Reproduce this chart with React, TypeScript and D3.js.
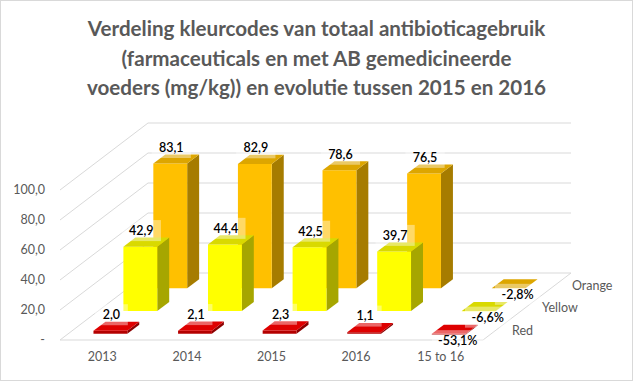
import React from 'react';
import * as d3 from 'd3';

const categories = ['2013', '2014', '2015', '2016', '15 to 16'];
const seriesNames = ['Red', 'Yellow', 'Orange'];
const redValues = [2.0, 2.1, 2.3, 1.1, -0.531];
const yellowValues = [42.9, 44.4, 42.5, 39.7, -0.066];
const orangeValues = [83.1, 82.9, 78.6, 76.5, -0.028];
const yTicks = [0, 20, 40, 60, 80, 100];
const titleLines = [
  'Verdeling kleurcodes van totaal antibioticagebruik',
  '(farmaceuticals en met AB gemedicineerde',
  'voeders (mg/kg)) en evolutie tussen 2015 en 2016',
];
const changeCategory = '15 to 16';

const W = 633;
const H = 381;
const X0 = 60;
const PLOT_W = 423;
const DX = 88;
const DY = -67;

const faceColors: Record<string, { front: string; side: string; top: string }> = {
  Red: { front: '#B40000', side: '#8C0000', top: '#DE0000' },
  Yellow: { front: '#FFFF00', side: '#A6A600', top: '#D9D900' },
  Orange: { front: '#FFC000', side: '#A67C00', top: '#DDA600' },
};

const FONT = 'Lato, "Open Sans", sans-serif';
const GRID = '#D9D9D9';
const TEXT = '#595959';

export default function App() {
  const seriesValues = [redValues, yellowValues, orangeValues];
  const xBand = d3.scaleBand<string>().domain(categories).range([0, PLOT_W]).paddingInner(0.6).paddingOuter(0.3);
  const zBand = d3.scaleBand<string>().domain(seriesNames).range([0, 1]).paddingInner(0.6).paddingOuter(0.27);
  const yScale = d3.scaleLinear().domain([0, 100]).range([340, 190]);

  const P = (x: number, d: number, v: number) => [X0 + x + d * DX, yScale(v) + d * DY];
  const poly = (pts: number[][]) => pts.map((p) => p.join(',')).join(' ');

  const fmtNum = (v: number) => d3.format('.1f')(v).replace('.', ',');
  const fmtPct = (v: number) => d3.format('.1%')(v).replace('.', ',').replace('−', '-');
  const fmtTick = (v: number) => (v === 0 ? '-' : d3.format('.1f')(v).replace('.', ','));

  const bars: React.ReactNode[] = [];
  const labels: React.ReactNode[] = [];
  for (let si = seriesNames.length - 1; si >= 0; si--) {
    const s = seriesNames[si];
    const col = faceColors[s];
    const d1 = zBand(s)!;
    const d2 = d1 + zBand.bandwidth();
    categories.forEach((c, ci) => {
      const v = seriesValues[si][ci];
      const x1 = xBand(c)!;
      const x2 = x1 + xBand.bandwidth();
      const hi = Math.max(0, v);
      const lo = Math.min(0, v);
      const front = [P(x1, d1, lo), P(x2, d1, lo), P(x2, d1, hi), P(x1, d1, hi)];
      const side = [P(x2, d1, lo), P(x2, d2, lo), P(x2, d2, hi), P(x2, d1, hi)];
      const top = [P(x1, d1, hi), P(x2, d1, hi), P(x2, d2, hi), P(x1, d2, hi)];
      bars.push(
        <g key={`b-${s}-${c}`}>
          <polygon points={poly(side)} fill={col.side} />
          <polygon points={poly(front)} fill={col.front} />
          <polygon points={poly(top)} fill={col.top} />
        </g>
      );
      const isChange = c === changeCategory;
      const text = isChange ? fmtPct(v) : fmtNum(v);
      const xc = X0 + x1 + xBand.bandwidth() / 2;
      let lx: number, ly: number;
      if (v < 0) {
        const fb = P(x1 + xBand.bandwidth() / 2, d1, lo);
        lx = fb[0] + 9;
        ly = fb[1] + 6;
      } else {
        const bt = P(x1 + xBand.bandwidth() / 2, d2, hi);
        lx = xc + d1 * DX + 1;
        ly = bt[1] - 7;
      }
      const tw = text.length * 6.3;
      labels.push(
        <g key={`l-${s}-${c}`}>
          <rect x={lx - tw / 2 - 7} y={ly - 10.5} width={tw + 14} height={21} fill="#FFFFFF" opacity={0.4} />
          <text x={lx} y={ly} dy="0.35em" textAnchor="middle" fontSize={12.5} fontWeight={600} fill="#000000" fontFamily={FONT}>
            {text}
          </text>
        </g>
      );
    });
  }

  return (
    <svg width={W} height={H} style={{ position: 'absolute', left: 0, top: 0, background: '#fff' }}>
      <rect x={0.5} y={0.5} width={W - 1} height={H - 1} fill="#FFFFFF" stroke={GRID} />
      {titleLines.map((t, i) => (
        <text key={i} x={W / 2} y={36 + i * 29.5} textAnchor="middle" fontSize={20.6} fontWeight="bold" fill={TEXT} fontFamily={FONT}>
          {t}
        </text>
      ))}
      {yTicks.map((t) => {
        const a = P(0, 0, t);
        const b = P(0, 1, t);
        const c = P(PLOT_W, 1, t);
        return (
          <g key={`g-${t}`}>
            <line x1={a[0]} y1={a[1]} x2={b[0]} y2={b[1]} stroke={GRID} strokeWidth={1} />
            <line x1={b[0]} y1={b[1]} x2={c[0]} y2={c[1]} stroke={GRID} strokeWidth={1} />
          </g>
        );
      })}
      {(() => {
        const a = P(0, 0, 0);
        const b = P(PLOT_W, 0, 0);
        const c = P(PLOT_W, 1, 0);
        return <polyline points={poly([a, b, c])} fill="none" stroke={GRID} strokeWidth={1} />;
      })()}
      {yTicks.map((t) => (
        <text key={`yt-${t}`} x={45} y={yScale(t)} dy="0.35em" textAnchor="end" fontSize={12.5} fill={TEXT} fontFamily={FONT}>
          {fmtTick(t)}
        </text>
      ))}
      {categories.map((c) => (
        <text key={`xt-${c}`} x={X0 + xBand(c)! + xBand.bandwidth() / 2} y={357} dy="0.35em" textAnchor="middle" fontSize={12.5} fill={TEXT} fontFamily={FONT}>
          {c}
        </text>
      ))}
      {seriesNames.map((s) => {
        const p = P(PLOT_W, zBand(s)! + zBand.bandwidth() / 2, 0);
        return (
          <text key={`zt-${s}`} x={p[0] + 15} y={p[1] + 1.5} dy="0.35em" textAnchor="start" fontSize={12.5} fill={TEXT} fontFamily={FONT}>
            {s}
          </text>
        );
      })}
      {bars}
      {labels}
    </svg>
  );
}
